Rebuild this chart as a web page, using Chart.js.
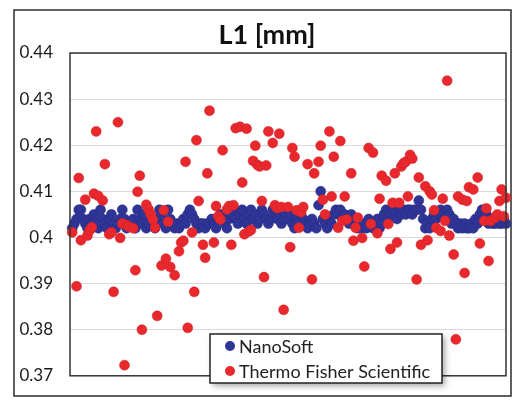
<!DOCTYPE html>
<html>
<head>
<meta charset="utf-8">
<script src="https://cdn.jsdelivr.net/npm/chart.js@4"></script>
<style>
  html, body { margin: 0; padding: 0; background: #fff; }
  canvas { display: block; }
</style>
</head>
<body>
<canvas id="chart" width="516" height="403"></canvas>
<script>
const chartTitle = 'L1 [mm]';
const seriesNames = ['NanoSoft', 'Thermo Fisher Scientific'];
const yTicks = [0.37, 0.38, 0.39, 0.40, 0.41, 0.42, 0.43, 0.44];

// NanoSoft: one value per sample, samples 1..200
const nanoValues = [
    0.402, 0.403, 0.404, 0.406, 0.406, 0.404, 0.403, 0.402, 0.404, 0.403,
    0.405, 0.404, 0.402, 0.406, 0.404, 0.403, 0.402, 0.404, 0.405, 0.403,
    0.402, 0.403, 0.404, 0.406, 0.404, 0.402, 0.403, 0.403, 0.404, 0.402,
    0.406, 0.404, 0.403, 0.405, 0.402, 0.403, 0.404, 0.403, 0.402, 0.404,
    0.406, 0.405, 0.403, 0.402, 0.406, 0.404, 0.403, 0.402, 0.403, 0.402,
    0.403, 0.404, 0.403, 0.405, 0.406, 0.405, 0.404, 0.403, 0.402, 0.403,
    0.403, 0.402, 0.403, 0.403, 0.404, 0.403, 0.402, 0.404, 0.405, 0.404,
    0.403, 0.402, 0.404, 0.405, 0.406, 0.404, 0.403, 0.405, 0.406, 0.404,
    0.403, 0.405, 0.406, 0.404, 0.405, 0.403, 0.404, 0.406, 0.405, 0.404,
    0.403, 0.404, 0.406, 0.405, 0.404, 0.405, 0.403, 0.404, 0.405, 0.404,
    0.405, 0.403, 0.402, 0.404, 0.403, 0.405, 0.404, 0.403, 0.402, 0.403,
    0.404, 0.403, 0.402, 0.407, 0.410, 0.404, 0.403, 0.402, 0.404, 0.403,
    0.405, 0.406, 0.405, 0.406, 0.404, 0.405, 0.404, 0.403, 0.405, 0.404,
    0.403, 0.402, 0.403, 0.402, 0.403, 0.402, 0.404, 0.403, 0.402, 0.403,
    0.404, 0.402, 0.403, 0.405, 0.406, 0.404, 0.405, 0.406, 0.405, 0.404,
    0.406, 0.405, 0.406, 0.405, 0.406, 0.406, 0.405, 0.406, 0.406, 0.408,
    0.406, 0.404, 0.402, 0.403, 0.402, 0.404, 0.405, 0.404, 0.405, 0.406,
    0.405, 0.404, 0.406, 0.405, 0.403, 0.404, 0.403, 0.402, 0.403, 0.402,
    0.403, 0.402, 0.402, 0.403, 0.402, 0.404, 0.403, 0.405, 0.406, 0.404,
    0.405, 0.403, 0.404, 0.403, 0.403, 0.404, 0.403, 0.403, 0.404, 0.403,
];

// Thermo Fisher Scientific: sample number and value of each visible point
const thermoSamples = [
    1, 3, 4, 5, 7, 8, 9, 10, 11, 12, 13, 15, 16, 18, 19, 20, 22, 23, 24, 25,
    26, 27, 29, 30, 31, 32, 33, 35, 36, 37, 38, 39, 40, 42, 43, 44, 45, 46, 48, 50,
    51, 52, 53, 54, 56, 57, 58, 59, 61, 62, 63, 64, 66, 67, 68, 69, 70, 72, 73, 74,
    75, 76, 78, 79, 80, 81, 82, 83, 84, 85, 86, 87, 88, 89, 90, 91, 93, 94, 95, 96,
    97, 98, 100, 101, 102, 103, 104, 105, 106, 107, 109, 111, 112, 114, 115, 116, 117, 119, 120, 121,
    123, 124, 125, 126, 127, 129, 130, 131, 132, 134, 135, 137, 138, 139, 141, 142, 143, 145, 146, 147,
    148, 149, 150, 151, 152, 153, 154, 155, 156, 157, 159, 160, 161, 163, 164, 165, 166, 167, 168, 170,
    171, 172, 173, 174, 176, 177, 178, 180, 181, 182, 183, 185, 187, 188, 190, 191, 192, 193, 195, 196,
    197, 198, 199, 200,
];
const thermoValues = [
    0.4011, 0.3894, 0.4129, 0.3994, 0.4082, 0.4004, 0.4015, 0.4022, 0.4095, 0.4230,
    0.4090, 0.4080, 0.4159, 0.4007, 0.4011, 0.3882, 0.4250, 0.3999, 0.4030, 0.3723,
    0.4027, 0.4023, 0.4020, 0.3929, 0.4099, 0.4134, 0.3800, 0.4071, 0.4061, 0.4050,
    0.4039, 0.4021, 0.3830, 0.3939, 0.4059, 0.3954, 0.4034, 0.3936, 0.3918, 0.3970,
    0.3989, 0.3993, 0.4164, 0.3804, 0.4011, 0.3882, 0.4211, 0.4079, 0.3984, 0.3956,
    0.4139, 0.4275, 0.3989, 0.4068, 0.4046, 0.4039, 0.4189, 0.4061, 0.4068, 0.3984,
    0.4070, 0.4237, 0.4240, 0.4119, 0.4007, 0.4236, 0.4013, 0.4016, 0.4166, 0.4199,
    0.4157, 0.4154, 0.4079, 0.3914, 0.4156, 0.4230, 0.4205, 0.4070, 0.4064, 0.4225,
    0.4066, 0.3843, 0.4066, 0.3979, 0.4194, 0.4175, 0.4059, 0.4021, 0.4055, 0.4066,
    0.4159, 0.3909, 0.4139, 0.4164, 0.4199, 0.4082, 0.4050, 0.4230, 0.4089, 0.4175,
    0.4021, 0.4209, 0.4036, 0.4089, 0.4039, 0.4139, 0.3993, 0.4021, 0.4043, 0.3999,
    0.3937, 0.4194, 0.4029, 0.4184, 0.4009, 0.4084, 0.4134, 0.4123, 0.4029, 0.3975,
    0.4075, 0.4139, 0.3989, 0.4075, 0.4154, 0.4161, 0.4164, 0.4089, 0.4179, 0.4171,
    0.3909, 0.4130, 0.3984, 0.4111, 0.3994, 0.4100, 0.4093, 0.4059, 0.4021, 0.4014,
    0.4084, 0.4036, 0.4340, 0.4004, 0.3963, 0.3779, 0.4089, 0.4082, 0.3923, 0.4079,
    0.4109, 0.4104, 0.4130, 0.3987, 0.4036, 0.4063, 0.3949, 0.4036, 0.4043, 0.4050,
    0.4079, 0.4104, 0.4046, 0.4086,
];

const nanoColor = '#2f3596';
const thermoColor = '#e8282d';
const fontFamily = 'Lato, "Open Sans", sans-serif';

// frame, title and in-plot legend like the Excel original
const excelLook = {
    id: 'excelLook',
    beforeDraw(chart) {
        const ctx = chart.ctx;
        ctx.save();
        ctx.fillStyle = '#fff';
        ctx.fillRect(0, 0, chart.width, chart.height);
        ctx.strokeStyle = '#2b2b2b';
        ctx.lineWidth = 1.5;
        ctx.strokeRect(14, 10, 497, 386);
        ctx.fillStyle = '#111';
        ctx.font = 'bold 27px ' + fontFamily;
        ctx.textAlign = 'center';
        ctx.textBaseline = 'alphabetic';
        ctx.fillText(chartTitle, 267, 44);
        ctx.restore();
    },
    afterDatasetsDraw(chart) {
        const ctx = chart.ctx;
        const a = chart.chartArea;
        ctx.save();
        ctx.strokeStyle = '#333';
        ctx.lineWidth = 1.5;
        ctx.strokeRect(a.left, a.top, a.right - a.left, a.bottom - a.top);

        // legend box
        const bx = 210, by = 334, bw = 232, bh = 49;
        ctx.shadowColor = 'rgba(0,0,0,0.35)';
        ctx.shadowBlur = 6;
        ctx.shadowOffsetX = 3;
        ctx.shadowOffsetY = 3;
        ctx.fillStyle = '#fff';
        ctx.fillRect(bx, by, bw, bh);
        ctx.shadowColor = 'transparent';
        ctx.strokeStyle = '#222';
        ctx.lineWidth = 1.5;
        ctx.strokeRect(bx, by, bw, bh);

        ctx.font = '18px ' + fontFamily;
        ctx.textBaseline = 'middle';
        ctx.textAlign = 'left';
        chart.data.datasets.forEach((ds, i) => {
            const cy = by + 12 + i * 25;
            ctx.beginPath();
            ctx.arc(bx + 20, cy, 5, 0, Math.PI * 2);
            ctx.fillStyle = ds.backgroundColor;
            ctx.fill();
            ctx.fillStyle = '#222';
            ctx.fillText(ds.label, bx + 29, cy + 1);
        });
        ctx.restore();
    },
};

new Chart(document.getElementById('chart'), {
    type: 'scatter',
    data: {
        datasets: [
            {
                label: seriesNames[0],
                data: nanoValues.map((v, i) => ({ x: i + 1, y: v })),
                backgroundColor: nanoColor,
                borderColor: '#262b80',
                borderWidth: 0.5,
                pointRadius: 5,
                order: 2,
                clip: false,
            },
            {
                label: seriesNames[1],
                data: thermoSamples.map((s, i) => ({ x: s, y: thermoValues[i] })),
                backgroundColor: thermoColor,
                borderColor: '#cf2226',
                borderWidth: 0.5,
                pointRadius: 5,
                order: 1,
                clip: false,
            },
        ],
    },
    options: {
        responsive: false,
        devicePixelRatio: 1,
        animation: false,
        layout: {
            padding: { left: 14, right: 10, top: 53, bottom: 22 },
        },
        scales: {
            x: {
                type: 'linear',
                display: false,
                min: 0,
                max: 200,
            },
            y: {
                min: yTicks[0],
                max: yTicks[yTicks.length - 1],
                afterBuildTicks: (scale) => {
                    scale.ticks = yTicks.map((v) => ({ value: v }));
                },
                afterFit: (scale) => {
                    scale.width = 56;
                },
                ticks: {
                    padding: 17,
                    color: '#1a1a1a',
                    font: { family: fontFamily, size: 17 },
                    callback: (v) => String(Number(v.toFixed(2))),
                },
                grid: {
                    color: '#d9d9d9',
                    lineWidth: 1,
                    drawTicks: false,
                },
                border: { display: false },
            },
        },
        plugins: {
            legend: { display: false },
            title: { display: false },
            tooltip: { enabled: false },
        },
    },
    plugins: [excelLook],
});
</script>
</body>
</html>
